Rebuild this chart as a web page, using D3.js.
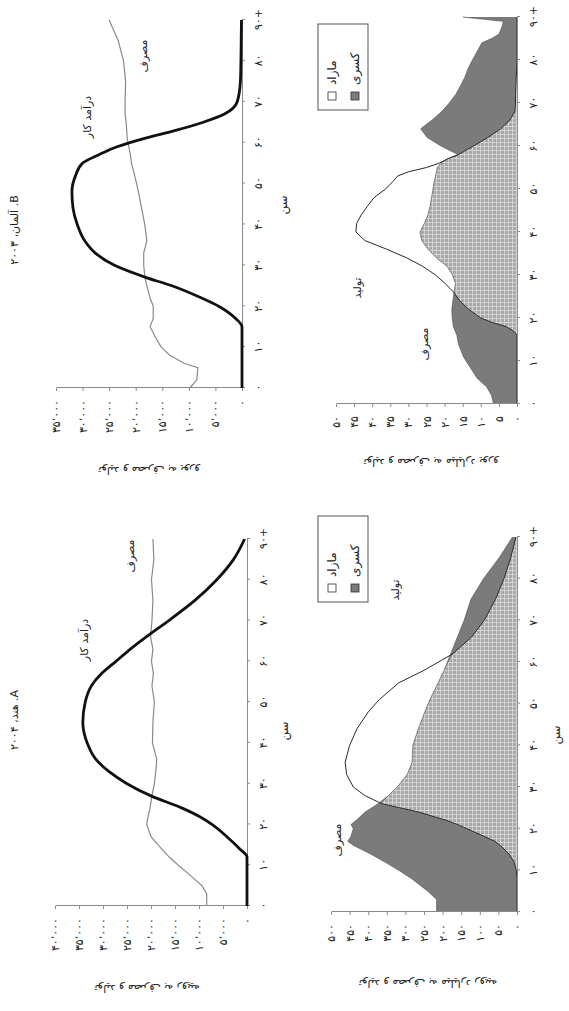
<!DOCTYPE html>
<html>
<head>
<meta charset="utf-8">
<script src="https://cdn.jsdelivr.net/npm/d3@7"></script>
<style>
  body { margin: 0; background: #fff; }
  svg { display: block; }
  text { font-family: "DejaVu Sans", sans-serif; }
</style>
</head>
<body>
<svg id="chart" width="569" height="1011"></svg>
<script>
// ---------------- data ----------------
const ageTicks = [0, 10, 20, 30, 40, 50, 60, 70, 80, 90];
const ageTickLabels = ["۰", "۱۰", "۲۰", "۳۰", "۴۰", "۵۰", "۶۰", "۷۰", "۸۰", "۹۰+"];

// India 2004, per capita (rupees)
const indiaAges = [0, 3, 5, 8, 10, 12, 14, 17, 20, 22, 24, 27, 30, 33, 36, 40, 45, 50, 54, 57, 60, 63, 66, 70, 75, 80, 85, 90];
const indiaLaborIncome = [0, 0, 0, 0, 0, 0, 1500, 4200, 7300, 10000, 13500, 20000, 25000, 28800, 31500, 33300, 34200, 33700, 32400, 30300, 27300, 24300, 21000, 16300, 10800, 6300, 2800, 500];
const indiaConsumption = [8400, 8400, 9400, 12300, 14300, 16200, 17800, 20000, 20900, 20600, 20200, 19800, 19300, 19000, 18800, 19700, 19600, 19300, 19800, 19500, 19900, 19600, 20100, 19800, 19600, 19900, 19400, 19600];
const indiaPerCapitaTicks = [0, 5000, 10000, 15000, 20000, 25000, 30000, 35000, 40000];

// India 2004, aggregate (billion rupees)
const indiaAggAges = [0, 3, 5, 8, 10, 12, 14, 16, 17, 18, 20, 21, 22, 24, 26, 28, 30, 33, 36, 40, 44, 48, 51, 55, 58, 62, 66, 70, 75, 80, 85, 90];
const indiaAggConsumption = [216, 216, 240, 283, 318, 355, 395, 440, 455, 447, 440, 446, 432, 408, 373, 345, 322, 295, 282, 280, 265, 248, 234, 212, 196, 178, 160, 142, 124, 90, 48, 12];
const indiaAggProduction = [0, 0, 0, 0, 2, 8, 22, 45, 60, 85, 135, 160, 190, 265, 364, 410, 440, 458, 462, 450, 430, 400, 370, 318, 250, 172, 122, 88, 58, 35, 17, 3];
const indiaAggTicks = [0, 50, 100, 150, 200, 250, 300, 350, 400, 450, 500];

// Germany 2003, per capita (euros)
const germanyAges = [0, 2, 5, 6, 8, 10, 12, 15, 17, 20, 22, 25, 27, 30, 33, 36, 40, 44, 48, 52, 55, 57, 59, 61, 63, 65, 67, 70, 75, 80, 85, 90];
const germanyLaborIncome = [0, 0, 0, 0, 0, 0, 0, 0, 1200, 4400, 7600, 13200, 18000, 24000, 27600, 29600, 31000, 31800, 32000, 31300, 30000, 27000, 23500, 18500, 12500, 7300, 3300, 900, 300, 200, 150, 100];
const germanyConsumption = [9800, 8500, 8300, 10800, 13600, 15200, 16100, 17300, 16700, 16700, 17300, 17900, 18250, 18500, 18500, 17900, 18300, 18900, 19500, 20200, 20800, 21000, 21300, 21600, 21700, 21800, 22000, 22000, 21900, 22300, 23300, 25000];
const germanyPerCapitaTicks = [0, 5000, 10000, 15000, 20000, 25000, 30000, 35000];

// Germany 2003, aggregate (billion euros)
const germanyAggAges = [0, 2, 4, 6, 9, 11, 14, 16, 17, 18, 19, 20, 22, 24, 26, 28, 30, 32, 34, 36, 38, 40, 42, 44, 46, 48, 50, 52, 53, 54, 55, 56, 57, 58, 60, 62, 64, 66, 68, 70, 72, 74, 76, 78, 80, 82, 84, 85, 86, 88, 89, 90];
const germanyAggConsumption = [6.5, 7.0, 8.4, 11.0, 13.3, 14.8, 16.2, 16.6, 17.1, 17.6, 17.7, 17.9, 18.0, 17.7, 17.4, 17.0, 17.8, 19.3, 22.3, 24.6, 26.3, 26.8, 25.6, 24.6, 24.0, 23.6, 23.2, 22.8, 22.5, 22.3, 22.0, 21.0, 19.2, 16.3, 21.0, 24.8, 26.6, 23.5, 20.8, 18.7, 16.9, 15.6, 14.4, 13.5, 12.3, 11.0, 9.7, 7.0, 5.0, 4.0, 3.8, 15.0];
const germanyAggProduction = [0, 0, 0, 0, 0, 0, 0, 0, 1.0, 3.0, 7.0, 10.0, 13.3, 15.8, 17.5, 19.8, 22.5, 26.0, 30.5, 36.0, 42.0, 44.5, 44.3, 43.0, 41.3, 39.5, 36.3, 34.0, 33.0, 30.0, 25.0, 21.5, 19.2, 16.2, 12.0, 8.0, 4.5, 2.0, 0.6, 0.4, 0.4, 0.3, 0.2, 0.1, 0, 0, 0, 0, 0, 0, 0, 0];
const germanyAggTicks = [0, 5, 10, 15, 20, 25, 30, 35, 40, 45, 50];

// ---------------- helpers ----------------
const faDigits = "۰۱۲۳۴۵۶۷۸۹";
const toFa = s => String(s).replace(/\d/g, d => faDigits[+d]).replace(/,/g, "٬");
const fmtFa = v => toFa(d3.format(",")(v));

const svg = d3.select("#chart");
const defs = svg.append("defs");
const pat = defs.append("pattern")
  .attr("id", "grid").attr("patternUnits", "userSpaceOnUse")
  .attr("width", 4).attr("height", 4);
pat.append("rect").attr("width", 4).attr("height", 4).attr("fill", "#a8a8a8");
pat.append("path").attr("d", "M0,0.5H4M0.5,0V4").attr("stroke", "#d2d2d2").attr("stroke-width", 1);

// the whole figure is laid out landscape and turned a quarter turn
const root = svg.append("g").attr("transform", "translate(0,1011) rotate(-90)");

function axes(g, x, y, ticks) {
  const ya = g.append("g")
    .attr("transform", `translate(${x.range()[0]},0)`)
    .call(d3.axisLeft(y).tickValues(ticks).tickFormat(fmtFa).tickSize(3).tickSizeOuter(0).tickPadding(9));
  const xa = g.append("g")
    .attr("transform", `translate(0,${y.range()[0]})`)
    .call(d3.axisBottom(x).tickValues(ageTicks).tickFormat((d, i) => ageTickLabels[i]).tickSize(3).tickSizeOuter(0).tickPadding(9));
  [ya, xa].forEach(a => {
    a.attr("font-family", "DejaVu Sans").attr("font-size", 11);
    a.selectAll("path, line").attr("stroke", "#8a8a8a");
    a.selectAll("text").attr("fill", "#222").style("letter-spacing", "1.5px");
  });
}

function label(g, txt, u, v, size, rot) {
  g.append("text")
    .attr("transform", `translate(${u},${v})` + (rot ? ` rotate(${rot})` : ""))
    .attr("text-anchor", "middle").attr("direction", "rtl")
    .attr("dominant-baseline", "central")
    .attr("font-size", size).attr("fill", "#222")
    .text(txt);
}

function perCapitaPanel(cfg) {
  const g = root.append("g");
  const x = d3.scaleLinear().domain([0, 90]).range(cfg.ageRange);
  const y = d3.scaleLinear().domain(cfg.valDomain).range(cfg.valRange);
  const rows = cfg.ages.map((a, i) => ({ a, inc: cfg.income[i], con: cfg.consumption[i] }));
  axes(g, x, y, cfg.ticks);
  g.append("path").datum(rows)
    .attr("fill", "none").attr("stroke", "#8a8a8a").attr("stroke-width", 1.2)
    .attr("d", d3.line().x(d => x(d.a)).y(d => y(d.con)));
  g.append("path").datum(rows)
    .attr("fill", "none").attr("stroke", "#111").attr("stroke-width", 2.8)
    .attr("stroke-linejoin", "round")
    .attr("d", d3.line().x(d => x(d.a)).y(d => y(d.inc)).curve(d3.curveMonotoneX));
  label(g, cfg.title, cfg.titlePos[0], cfg.titlePos[1], 11);
  label(g, "درآمد کار", cfg.incomeLabel[0], cfg.incomeLabel[1], 11);
  label(g, "مصرف", cfg.consLabel[0], cfg.consLabel[1], 11);
  label(g, "سن", cfg.ageLabel[0], cfg.ageLabel[1], 12);
  label(g, cfg.yTitle, cfg.yTitlePos[0], cfg.yTitlePos[1], 11, -90);
}

function aggregatePanel(cfg) {
  const g = root.append("g");
  const x = d3.scaleLinear().domain([0, 90]).range(cfg.ageRange);
  const y = d3.scaleLinear().domain(cfg.valDomain).range(cfg.valRange);
  const rows = cfg.ages.map((a, i) => ({ a, c: cfg.consumption[i], p: cfg.production[i] }));
  // consumption covered by own labour
  g.append("path").datum(rows).attr("fill", "url(#grid)")
    .attr("d", d3.area().x(d => x(d.a)).y0(y(0)).y1(d => y(Math.min(d.c, d.p))));
  // deficit: consumption above production
  g.append("path").datum(rows).attr("fill", "#7b7b7b")
    .attr("d", d3.area().x(d => x(d.a)).y0(d => y(Math.min(d.c, d.p))).y1(d => y(d.c)));
  g.append("path").datum(rows).attr("fill", "none").attr("stroke", "#555").attr("stroke-width", 0.7)
    .attr("d", d3.line().x(d => x(d.a)).y(d => y(d.c)));
  g.append("path").datum(rows).attr("fill", "none").attr("stroke", "#2a2a2a").attr("stroke-width", 1)
    .attr("d", d3.line().x(d => x(d.a)).y(d => y(d.p)));
  axes(g, x, y, cfg.ticks);
  label(g, "تولید", cfg.prodLabel[0], cfg.prodLabel[1], 11);
  label(g, "مصرف", cfg.consLabel[0], cfg.consLabel[1], 11);
  if (cfg.ageLabel) label(g, "سن", cfg.ageLabel[0], cfg.ageLabel[1], 12);
  label(g, cfg.yTitle, cfg.yTitlePos[0], cfg.yTitlePos[1], 11, -90);

  // legend
  const [lu, lv] = cfg.legendPos;
  const lg = g.append("g").attr("transform", `translate(${lu},${lv})`);
  lg.append("rect").attr("width", 86).attr("height", 50)
    .attr("fill", "#fff").attr("stroke", "#555").attr("stroke-width", 1);
  const items = [{ t: "مازاد", f: "#fff" }, { t: "کسری", f: "#7b7b7b" }];
  items.forEach((it, i) => {
    const cv = 14 + i * 23;
    lg.append("rect").attr("x", 10).attr("y", cv - 4).attr("width", 8).attr("height", 8)
      .attr("fill", it.f).attr("stroke", "#333").attr("stroke-width", 0.8);
    lg.append("text").attr("x", 25).attr("y", cv).attr("dominant-baseline", "central")
      .attr("font-size", 12).attr("fill", "#222").text(it.t);
  });
}

perCapitaPanel({
  ages: indiaAges, income: indiaLaborIncome, consumption: indiaConsumption,
  ticks: indiaPerCapitaTicks, valDomain: [0, 40000],
  ageRange: [105, 472], valRange: [247, 55],
  title: "A. هند، ۲۰۰۴", titlePos: [291, 14],
  incomeLabel: [371, 84], consLabel: [455, 130], ageLabel: [280, 284],
  yTitle: "تولید و مصرف به روپیه", yTitlePos: [23, 147]
});

aggregatePanel({
  ages: indiaAggAges, consumption: indiaAggConsumption, production: indiaAggProduction,
  ticks: indiaAggTicks, valDomain: [0, 500],
  ageRange: [99, 474], valRange: [517, 331],
  prodLabel: [421, 395], consLabel: [171, 337], ageLabel: [276, 556],
  yTitle: "تولید و مصرف به میلیارد روپیه", yTitlePos: [28, 428],
  legendPos: [409, 318]
});

perCapitaPanel({
  ages: germanyAges, income: germanyLaborIncome, consumption: germanyConsumption,
  ticks: germanyPerCapitaTicks, valDomain: [0, 35000],
  ageRange: [623, 991], valRange: [242, 56],
  title: "B. آلمان، ۲۰۰۳", titlePos: [781, 14],
  incomeLabel: [894, 87], consLabel: [955, 143], ageLabel: [806, 283],
  yTitle: "تولید و مصرف به یورو", yTitlePos: [541, 149]
});

aggregatePanel({
  ages: germanyAggAges, consumption: germanyAggConsumption, production: germanyAggProduction,
  ticks: germanyAggTicks, valDomain: [0, 50],
  ageRange: [607, 994], valRange: [517, 336],
  prodLabel: [723, 357], consLabel: [667, 424], ageLabel: null,
  yTitle: "تولید و مصرف به میلیارد یورو", yTitlePos: [549, 431],
  legendPos: [901, 318]
});
</script>
</body>
</html>
